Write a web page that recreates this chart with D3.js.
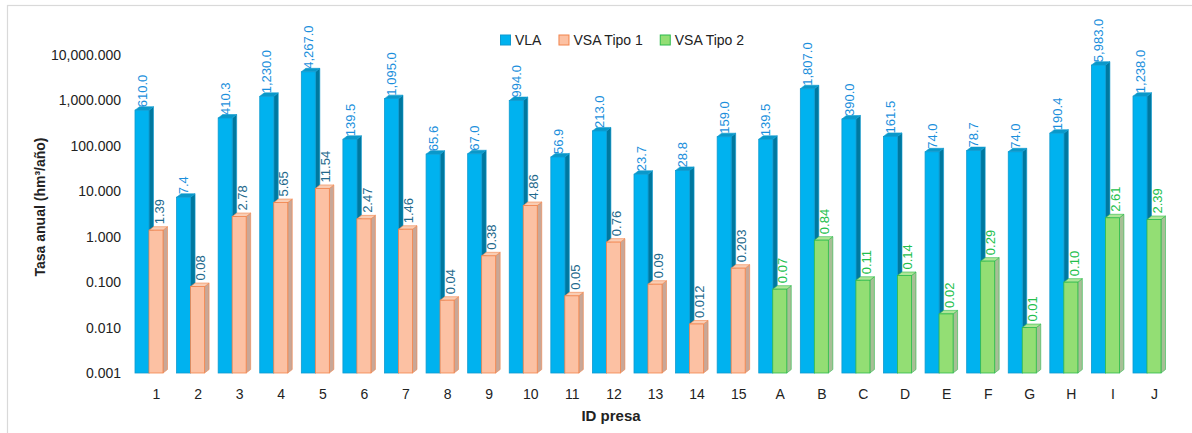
<!DOCTYPE html>
<html>
<head>
<meta charset="utf-8">
<script src="https://cdn.jsdelivr.net/npm/d3@7"></script>
<style>
  html, body { margin: 0; padding: 0; background: #fff; }
  svg { display: block; }
</style>
</head>
<body>
<svg id="chart" width="1192" height="433"></svg>
<script>
// Dam identifiers along the x axis
const categories = ["1","2","3","4","5","6","7","8","9","10","11","12","13","14","15",
                    "A","B","C","D","E","F","G","H","I","J"];

// VLA annual rate per dam
const vla = [610.0, 7.4, 410.3, 1230.0, 4267.0, 139.5, 1095.0, 65.6, 67.0, 994.0,
             56.9, 213.0, 23.7, 28.8, 159.0, 139.5, 1807.0, 390.0, 161.5, 74.0,
             78.7, 74.0, 190.4, 5983.0, 1238.0];

// VSA Tipo 1 (dams 1–15)
const tipo1Ids = ["1","2","3","4","5","6","7","8","9","10","11","12","13","14","15"];
const vsaTipo1 = [1.39, 0.08, 2.78, 5.65, 11.54, 2.47, 1.46, 0.04, 0.38, 4.86,
                  0.05, 0.76, 0.09, 0.012, 0.203];

// VSA Tipo 2 (dams A–J)
const tipo2Ids = ["A","B","C","D","E","F","G","H","I","J"];
const vsaTipo2 = [0.07, 0.84, 0.11, 0.14, 0.02, 0.29, 0.01, 0.10, 2.61, 2.39];

// Log axis ticks
const yTicks = [0.001, 0.01, 0.1, 1, 10, 100, 1000, 10000];

const legendItems = ["VLA", "VSA Tipo 1", "VSA Tipo 2"];

const svg = d3.select("#chart");
const FONT = "'Liberation Sans', Arial, sans-serif";

// frame
svg.append("rect")
  .attr("x", 7.5).attr("y", 5.5)
  .attr("width", 1200).attr("height", 460)
  .attr("fill", "none").attr("stroke", "#d9d9d9").attr("stroke-width", 1.2);

const x = d3.scalePoint().domain(categories).range([156, 1154]);
const y = d3.scaleLog().domain([0.001, 10000]).range([373, 55]);

const styles = {
  vla:   { front: "#00b2ef", side: "#00789f", top: "#0a98c9", stroke: "#0e9ad0", label: "#1b8fdc" },
  tipo1: { front: "#fcc1a3", side: "#c9a797", top: "#f9cdb4", stroke: "#f2844c", label: "#22698c" },
  tipo2: { front: "#93de74", side: "#a7bf96", top: "#aee597", stroke: "#2dbb4c", label: "#22bf4c" }
};

const barW = 14, dx = 4.5, dy = -3.5;

// one 3-D column: side face, top face, front face
function column(g, x0, v, st) {
  const yt = y(v), y0 = y(0.001);
  const x1 = x0 + barW;
  g.append("path")
    .attr("d", `M${x1},${yt}L${x1 + dx},${yt + dy}L${x1 + dx},${y0 + dy}L${x1},${y0}Z`)
    .attr("fill", st.side).attr("stroke", st.stroke).attr("stroke-width", 0.6);
  g.append("path")
    .attr("d", `M${x0},${yt}L${x0 + dx},${yt + dy}L${x1 + dx},${yt + dy}L${x1},${yt}Z`)
    .attr("fill", st.top).attr("stroke", st.stroke).attr("stroke-width", 0.6);
  g.append("rect")
    .attr("x", x0).attr("y", yt).attr("width", barW).attr("height", y0 - yt)
    .attr("fill", st.front).attr("stroke", st.stroke).attr("stroke-width", 0.8);
}

function vLabel(g, cx, yBase, text, color) {
  g.append("text")
    .attr("transform", `translate(${cx},${yBase}) rotate(-90)`)
    .attr("dy", "0.36em")
    .attr("font-family", FONT).attr("font-size", 13)
    .attr("fill", color)
    .text(text);
}

const bars = svg.append("g");
const labels = svg.append("g");
const fmtVla = d3.format(",.1f");
const fmtT2 = d3.format(".2f");

categories.forEach((c, i) => {
  const cx = x(c);
  const g = bars.append("g");
  // VLA column
  column(g, cx - 21, vla[i], styles.vla);
  vLabel(labels, cx - 14, y(vla[i]) - 3, fmtVla(vla[i]), styles.vla.label);

  // VSA column (Tipo 1 or Tipo 2)
  const i1 = tipo1Ids.indexOf(c), i2 = tipo2Ids.indexOf(c);
  if (i1 >= 0) {
    column(g, cx - 7, vsaTipo1[i1], styles.tipo1);
    vLabel(labels, cx + 3, y(vsaTipo1[i1]) - 6, String(vsaTipo1[i1]), styles.tipo1.label);
  } else if (i2 >= 0) {
    column(g, cx - 7, vsaTipo2[i2], styles.tipo2);
    vLabel(labels, cx + 3, y(vsaTipo2[i2]) - 6, fmtT2(vsaTipo2[i2]), styles.tipo2.label);
  }
});

// y axis
const yAxis = svg.append("g")
  .attr("transform", "translate(128,0)")
  .call(d3.axisLeft(y).tickValues(yTicks).tickFormat(d3.format(",.3f")).tickSize(0).tickPadding(7));
yAxis.select(".domain").remove();
yAxis.selectAll("text").attr("font-family", FONT).attr("font-size", 14).attr("fill", "#222");

// x axis
const xAxis = svg.append("g")
  .attr("transform", "translate(0,383)")
  .call(d3.axisBottom(x).tickSize(0).tickPadding(6));
xAxis.select(".domain").remove();
xAxis.selectAll("text").attr("font-family", FONT).attr("font-size", 14).attr("fill", "#222");

// axis titles
svg.append("text")
  .attr("transform", "translate(40,207) rotate(-90)")
  .attr("text-anchor", "middle").attr("dy", "0.35em")
  .attr("font-family", FONT).attr("font-size", 14).attr("font-weight", "bold")
  .attr("fill", "#222")
  .text("Tasa anual (hm³/año)");

svg.append("text")
  .attr("x", 611).attr("y", 416)
  .attr("text-anchor", "middle").attr("dy", "0.35em")
  .attr("font-family", FONT).attr("font-size", 15).attr("font-weight", "bold")
  .attr("fill", "#222")
  .text("ID presa");

// legend
const legendStyles = [styles.vla, styles.tipo1, styles.tipo2];
const legend = svg.append("g").attr("transform", "translate(500,40)");
let lx = 0;
legendItems.forEach((name, i) => {
  const item = legend.append("g").attr("transform", `translate(${lx},0)`);
  item.append("rect")
    .attr("x", 0.5).attr("y", -5).attr("width", 10).attr("height", 10)
    .attr("fill", legendStyles[i].front).attr("stroke", legendStyles[i].stroke);
  const t = item.append("text")
    .attr("x", 15).attr("dy", "0.35em")
    .attr("font-family", FONT).attr("font-size", 14).attr("fill", "#222")
    .text(name);
  lx += 15 + t.node().getComputedTextLength() + 17;
});
</script>
</body>
</html>
